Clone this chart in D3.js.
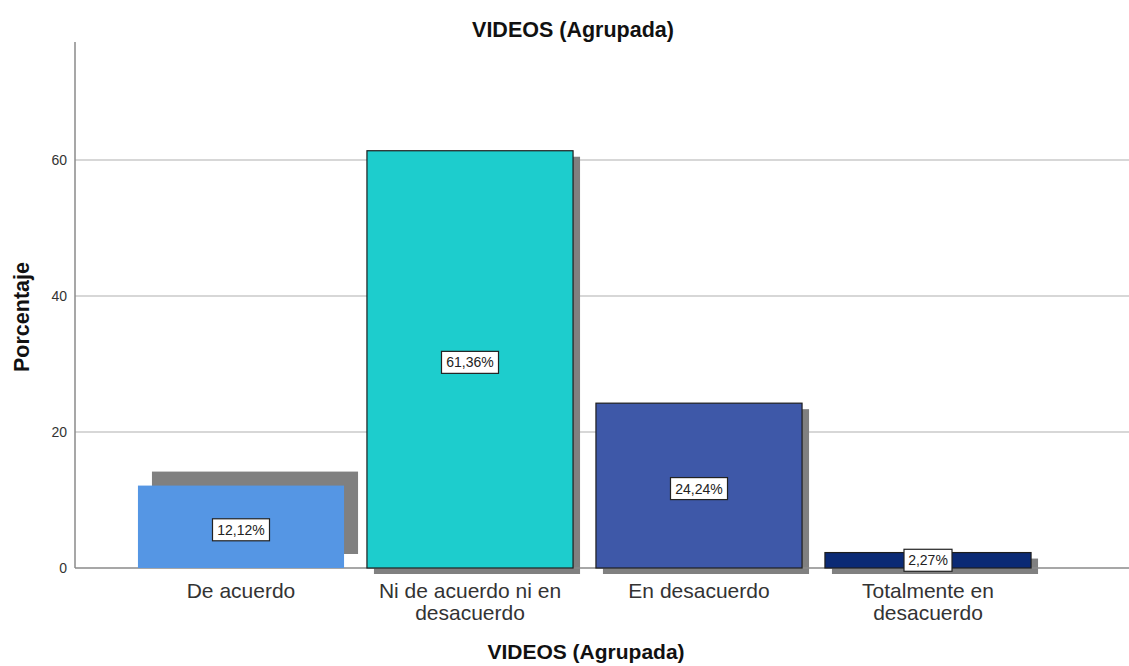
<!DOCTYPE html>
<html>
<head>
<meta charset="utf-8">
<script src="https://cdn.jsdelivr.net/npm/d3@7"></script>
<style>
  html, body { margin: 0; padding: 0; background: #fff; }
  svg { display: block; font-family: Arial, "Liberation Sans", sans-serif; }
</style>
</head>
<body>
<svg id="chart" width="1129" height="666"></svg>
<script>
// Response categories (each label split into its display lines)
const categories = ["De acuerdo", "Ni de acuerdo ni en desacuerdo", "En desacuerdo", "Totalmente en desacuerdo"];
const categoryLines = [["De acuerdo"], ["Ni de acuerdo ni en", "desacuerdo"], ["En desacuerdo"], ["Totalmente en", "desacuerdo"]];
// Percentage of respondents per category
const percentages = [12.12, 61.36, 24.24, 2.27];
const valueLabels = ["12,12%", "61,36%", "24,24%", "2,27%"];
const barColors = ["#5596e4", "#1dcdcd", "#3e58a8", "#0b2a75"];
const yTicks = [0, 20, 40, 60];
const chartTitle = "VIDEOS (Agrupada)";
const xTitle = "VIDEOS (Agrupada)";
const yTitle = "Porcentaje";

const svg = d3.select("#chart");
const axisLeft = 75, axisRight = 1129, axisTop = 42, axisBottom = 568;

const y = d3.scaleLinear().domain([0, 77.35]).range([axisBottom, axisTop]);
const x = d3.scaleBand().domain(categories).range([126.5, 1042.5]).paddingInner(0.1).paddingOuter(0.05);

// gridlines
svg.append("g").selectAll("line").data(yTicks.filter(d => d > 0)).join("line")
  .attr("x1", axisLeft).attr("x2", axisRight)
  .attr("y1", d => y(d)).attr("y2", d => y(d))
  .attr("stroke", "#cacaca").attr("stroke-width", 1.5);

// vertical axis line
svg.append("line").attr("x1", axisLeft).attr("x2", axisLeft).attr("y1", axisTop).attr("y2", axisBottom)
  .attr("stroke", "#8a8a8a").attr("stroke-width", 1.5);

// y tick labels via d3 axis
const yAxis = svg.append("g").attr("transform", `translate(${axisLeft},0)`)
  .call(d3.axisLeft(y).tickValues(yTicks).tickSize(0).tickPadding(8));
yAxis.select(".domain").remove();
yAxis.selectAll("text").attr("font-size", 14).attr("fill", "#333")
  .attr("font-family", "Arial, 'Liberation Sans', sans-serif");

const data = categories.map((c, i) => ({ c, v: percentages[i], color: barColors[i], label: valueLabels[i], lines: categoryLines[i], i }));

// drop shadows (the first bar's shadow sits up and to the right)
svg.append("g").selectAll("rect").data(data).join("rect")
  .attr("x", d => x(d.c) + (d.i === 0 ? 14 : 7))
  .attr("y", d => y(d.v) + (d.i === 0 ? -14 : 6))
  .attr("width", x.bandwidth())
  .attr("height", d => y(0) - y(d.v))
  .attr("fill", "#808080");

// horizontal axis line
svg.append("line").attr("x1", axisLeft).attr("x2", axisRight).attr("y1", axisBottom).attr("y2", axisBottom)
  .attr("stroke", "#8a8a8a").attr("stroke-width", 1.5);

// bars
svg.append("g").selectAll("rect").data(data).join("rect")
  .attr("x", d => x(d.c))
  .attr("y", d => y(d.v))
  .attr("width", x.bandwidth())
  .attr("height", d => y(0) - y(d.v))
  .attr("fill", d => d.color)
  .attr("stroke", d => d.i === 0 ? "none" : "#1e1e1e")
  .attr("stroke-width", 1.2);

// value labels in white boxes
const lbl = svg.append("g").selectAll("g").data(data).join("g")
  .attr("transform", d => `translate(${x(d.c) + x.bandwidth() / 2},${(y(d.v) + y(0)) / 2 + (d.i === 3 ? 0 : 3)})`);
lbl.append("rect")
  .attr("x", d => d.i === 3 ? -24 : -28.5).attr("y", -11)
  .attr("width", d => d.i === 3 ? 48 : 57).attr("height", 22)
  .attr("fill", "#fff").attr("stroke", "#222").attr("stroke-width", 1.2);
lbl.append("text").attr("text-anchor", "middle").attr("dy", "0.36em")
  .attr("font-size", 14).attr("fill", "#222").text(d => d.label);

// category labels
const cat = svg.append("g").selectAll("text").data(data).join("text")
  .attr("x", d => x(d.c) + x.bandwidth() / 2).attr("y", 598)
  .attr("text-anchor", "middle").attr("font-size", 21).attr("fill", "#333");
cat.selectAll("tspan").data(d => d.lines.map(t => ({ t, x: x(d.c) + x.bandwidth() / 2 }))).join("tspan")
  .attr("x", t => t.x).attr("dy", (t, k) => k === 0 ? 0 : 22).text(t => t.t);

// titles
svg.append("text").attr("x", 573).attr("y", 37).attr("text-anchor", "middle")
  .attr("font-size", 21.5).attr("font-weight", "bold").attr("fill", "#111").text(chartTitle);
svg.append("text").attr("x", 586).attr("y", 659).attr("text-anchor", "middle")
  .attr("font-size", 21).attr("font-weight", "bold").attr("fill", "#111").text(xTitle);
svg.append("text").attr("transform", "translate(29,317) rotate(-90)").attr("text-anchor", "middle")
  .attr("font-size", 21.5).attr("font-weight", "bold").attr("fill", "#111").text(yTitle);
</script>
</body>
</html>
